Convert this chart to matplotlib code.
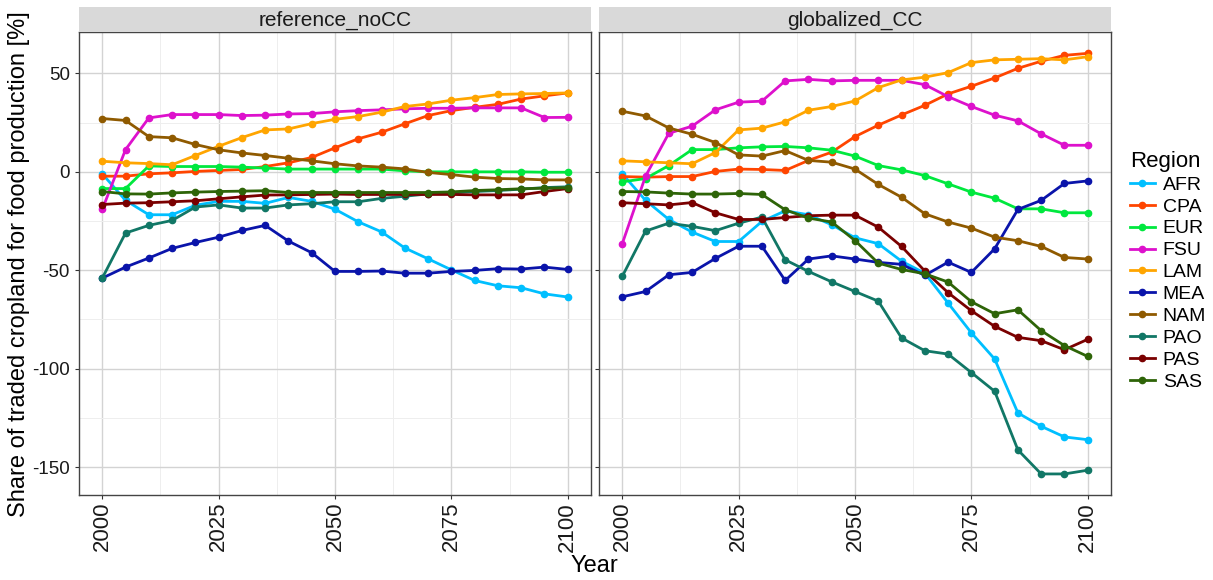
import matplotlib.pyplot as plt
import numpy as np

# years 2000..2100 every 5 years
years = list(range(2000, 2101, 5))
regions = ['AFR', 'CPA', 'EUR', 'FSU', 'LAM', 'MEA', 'NAM', 'PAO', 'PAS', 'SAS']
colors = ['#00BFFF', '#FF4500', '#00E83E', '#DD11CC', '#FFA500',
          '#0A14AA', '#8F5A00', '#117766', '#7A0000', '#2E6408']
scenarios = ['reference_noCC', 'globalized_CC']

# reference_noCC
ref_AFR = [-1, -14.5, -21.8, -21.8, -17, -15, -15, -16, -13, -15, -19, -25.4, -30.5, -38.7, -44.2, -49.8, -55.2, -57.9, -58.9, -62, -63.6]
ref_CPA = [-2.2, -2.2, -1, -0.5, 0.2, 0.7, 1.2, 2.7, 4.6, 7.3, 12.2, 16.8, 20.1, 24.4, 28.6, 31.1, 32.8, 34.3, 37, 38.6, 40.1]
ref_EUR = [-8.5, -8.5, 3, 2.7, 2.7, 2.7, 2.4, 1.9, 1.4, 1.4, 1.4, 1.4, 1.4, 0.5, 0, 0, 0, 0, 0, -0.2, -0.2]
ref_FSU = [-19.1, 11.3, 27.4, 29.1, 29.1, 29.1, 28.6, 28.8, 29.4, 29.6, 30.5, 31.1, 31.5, 32, 32.3, 32.3, 32.5, 32.5, 32.5, 27.6, 27.7]
ref_LAM = [5.4, 4.6, 4.2, 3.6, 8.3, 13, 17.4, 21.3, 21.8, 24.5, 26.7, 28.1, 30.3, 33.2, 34.5, 36.4, 37.7, 39.3, 39.6, 39.8, 40.1]
ref_MEA = [-54, -48.4, -43.8, -38.9, -35.9, -33.2, -29.8, -27.2, -35.2, -41.1, -50.6, -50.6, -50.4, -51.5, -51.5, -50.6, -50.1, -49.2, -49.4, -48.4, -49.6]
ref_NAM = [27.1, 26.1, 17.9, 17.3, 13.9, 11.2, 9.6, 8.3, 6.9, 5.6, 4.1, 3, 2.4, 1.5, -0.3, -1.4, -2.7, -3.4, -3.6, -4.1, -4.1]
ref_PAO = [-54, -31.1, -27.2, -24.7, -17.9, -16.8, -18.4, -18.4, -16.8, -16.2, -15.2, -15.2, -13.5, -12.4, -11.2, -10.8, -10, -9.5, -8.8, -8, -7.6]
ref_PAS = [-16.6, -15.9, -15.7, -15.2, -14.7, -13.7, -12.7, -11.8, -11.7, -11.5, -11.3, -11.5, -11.5, -11.5, -11.5, -11.5, -11.7, -11.7, -11.7, -10, -8.5]
ref_SAS = [-10, -11.2, -11.3, -10.7, -10.3, -10, -9.8, -9.6, -10.5, -10.5, -10.5, -10.5, -10.5, -10.5, -10.5, -10.2, -9.5, -9.1, -8.6, -8.3, -8.1]

# globalized_CC
glo_AFR = [-1, -14.5, -24.2, -30.6, -35.4, -35.4, -25.2, -19.8, -21.8, -26.9, -33.5, -36.5, -45.4, -51.5, -66.7, -81.8, -95.1, -122.5, -129.3, -134.7, -136.1]
glo_CPA = [-2.4, -2.7, -2.4, -2.4, 0.2, 1.4, 1.2, 0.7, 5.8, 10, 17.9, 23.7, 28.9, 33.8, 39.6, 43.5, 47.7, 52.6, 56.2, 59.2, 60.2]
glo_EUR = [-5.1, -3.4, 3.2, 11.3, 11.3, 12.2, 12.7, 12.9, 12.2, 11, 8, 3.2, 1, -1.9, -6.1, -10.3, -13.4, -18.8, -18.8, -20.8, -20.8]
glo_FSU = [-36.5, -2.2, 19.6, 23.2, 31.5, 35.4, 35.9, 46.2, 47, 46.2, 46.5, 46.5, 46.5, 44.3, 38.2, 33.2, 28.8, 25.9, 19.3, 13.5, 13.5]
glo_LAM = [5.6, 5.1, 4.6, 4.1, 9.8, 21.3, 22.2, 25.4, 31.3, 33.2, 36, 42.8, 46.7, 48.1, 50.4, 55.5, 56.9, 57.2, 57.5, 56.9, 58.5]
glo_MEA = [-63.5, -60.8, -52.3, -51.1, -44, -37.8, -37.8, -55.2, -44.3, -42.7, -44.3, -46, -47, -52.6, -45.9, -51.1, -39.1, -19.1, -14.5, -5.9, -4.6]
glo_NAM = [30.8, 28.4, 22.3, 19.1, 14.9, 8.6, 8, 10.8, 5.8, 4.9, 1.4, -6.4, -12.9, -21.3, -25.5, -28.6, -33.2, -35, -37.9, -43.5, -44.3]
glo_PAO = [-53.1, -30.1, -26.1, -27.7, -29.9, -26.1, -23, -44.7, -50.6, -55.9, -60.8, -65.7, -84.4, -90.9, -92.6, -102, -111.5, -141.3, -153.5, -153.5, -151.6]
glo_PAS = [-15.7, -16.2, -16.8, -15.6, -20.8, -24.2, -24.2, -23.2, -22.3, -22, -22, -28.1, -37.9, -50.4, -61.4, -70.6, -78.5, -84.1, -85.8, -90.4, -85.1]
glo_SAS = [-10, -10.2, -10.8, -11.3, -11.3, -11, -11.5, -19.3, -23.5, -25.5, -34.9, -46.4, -49.6, -51.8, -56, -66, -72.1, -70.1, -80.7, -88.3, -93.8]

data = {
    'reference_noCC': [ref_AFR, ref_CPA, ref_EUR, ref_FSU, ref_LAM, ref_MEA, ref_NAM, ref_PAO, ref_PAS, ref_SAS],
    'globalized_CC': [glo_AFR, glo_CPA, glo_EUR, glo_FSU, glo_LAM, glo_MEA, glo_NAM, glo_PAO, glo_PAS, glo_SAS],
}

plt.rcParams['font.family'] = ['Liberation Sans', 'DejaVu Sans']
plt.rcParams['axes.unicode_minus'] = False

fig = plt.figure(figsize=(12.13, 5.8), dpi=100)

W, H = 1213, 580
panel_left = [79, 599]
panel_w = 512
top, bottom = 32.3, 495
strip_top = 6.7

axes = []
for i, sc in enumerate(scenarios):
    ax = fig.add_axes([panel_left[i] / W, 1 - bottom / H, panel_w / W, (bottom - top) / H])
    for reg, col, vals in zip(regions, colors, data[sc]):
        ax.plot(years, vals, color=col, lw=2.0, marker='o', ms=4.5, label=reg, zorder=3)
    ax.set_xlim(1995, 2105)
    ax.set_ylim(-164.2, 70.9)
    ax.set_xticks([2000, 2025, 2050, 2075, 2100])
    ax.set_xticks([2012.5, 2037.5, 2062.5, 2087.5], minor=True)
    ax.set_yticks([50, 0, -50, -100, -150])
    ax.set_yticks([25, -25, -75, -125], minor=True)
    ax.grid(True, which='major', color='#D3D3D3', lw=1.0, zorder=0)
    ax.grid(True, which='minor', color='#EEEEEE', lw=0.7, zorder=0)
    ax.set_axisbelow(True)
    for s in ax.spines.values():
        s.set_color('#444444')
        s.set_linewidth(1.0)
    ax.tick_params(axis='both', which='major', length=3, color='#333333', labelcolor='#1A1A1A')
    ax.tick_params(axis='y', labelsize=13.5)
    ax.tick_params(axis='x', labelsize=16, labelrotation=90, pad=2)
    ax.tick_params(axis='both', which='minor', length=0)
    if i > 0:
        ax.tick_params(axis='y', labelleft=False)

    # facet strip
    strip = fig.add_axes([panel_left[i] / W, 1 - top / H, panel_w / W, (top - strip_top) / H])
    strip.set_facecolor('#D9D9D9')
    strip.set_xticks([])
    strip.set_yticks([])
    for s in strip.spines.values():
        s.set_visible(False)
    strip.text(0.5, 0.45, sc, ha='center', va='center', fontsize=15, color='#1A1A1A')
    axes.append(ax)

fig.text(19 / W, 0.5 * (1 - top / H + 1 - bottom / H), 'Share of traded cropland for food production [%]',
         rotation=90, ha='center', va='center', fontsize=17)
fig.text(594 / W, 1 - 566 / H, 'Year', ha='center', va='center', fontsize=17)

handles, labels = axes[0].get_legend_handles_labels()
leg = fig.legend(handles, labels, title='Region', loc='upper left',
                 bbox_to_anchor=(1122 / W, 1 - 143 / H), frameon=False,
                 fontsize=14, title_fontsize=16, handlelength=1.3,
                 handletextpad=0.4, labelspacing=0.22, borderaxespad=0)
leg._legend_box.align = 'left'

fig.savefig('out.png', dpi=100)
